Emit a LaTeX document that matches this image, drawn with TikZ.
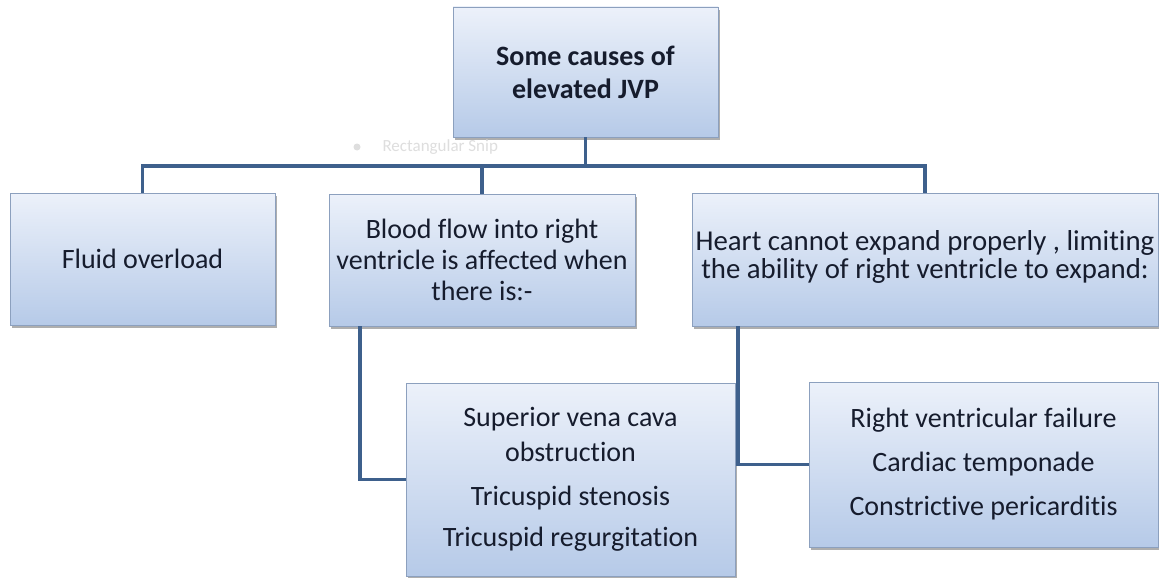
\documentclass[tikz,border=0pt]{standalone}
\usepackage{fontspec}
\setmainfont{Carlito}[Ligatures=NoCommon]
\usetikzlibrary{shadows}
\definecolor{boxtop}{RGB}{236,241,250}
\definecolor{boxbot}{RGB}{182,202,232}
\definecolor{boxline}{RGB}{140,160,190}
\definecolor{conncol}{RGB}{62,96,140}
\definecolor{txtcol}{RGB}{22,28,45}
\definecolor{faint}{RGB}{222,222,222}
\tikzset{
  box/.style={rectangle, draw=boxline, line width=0.8pt, top color=boxtop, bottom color=boxbot,
    drop shadow={shadow xshift=2pt, shadow yshift=-3pt, opacity=0.45, fill=black!70},
    inner sep=0pt, text=txtcol, align=center},
  conn/.style={draw=conncol, line width=3.8pt},
  txt/.style={font=\fontsize{28}{31}\selectfont}
}
\begin{document}
\begin{tikzpicture}[x=1pt,y=-1pt]
\useasboundingbox[fill=white] (0,0) rectangle (1159,578);
\node[box, minimum width=265pt, minimum height=130pt, font=\bfseries\fontsize{28}{33}\selectfont] (top) at (585.5,72) {Some causes of\\elevated JVP};
\node[box, minimum width=265pt, minimum height=132pt, txt] (fluid) at (142.5,259) {Fluid overload};
\node[box, minimum width=306pt, minimum height=132pt, txt] (blood) at (482,260) {Blood flow into right\\ventricle is affected when\\there is:-};
\node[box, minimum width=466pt, minimum height=133pt, font=\fontsize{28.8}{32}\selectfont] (heart) at (925,259.5) {\raisebox{10pt}{\shortstack{Heart cannot expand properly , limiting\\the ability of right ventricle to expand:}}};
\node[box, minimum width=329pt, minimum height=193pt, font=\fontsize{28}{35}\selectfont] (sub1) at (570.5,479.5) {Superior vena cava\\obstruction\\[9pt]Tricuspid stenosis\\[6pt]Tricuspid regurgitation};
\node[box, minimum width=349pt, minimum height=165pt, font=\fontsize{28}{44}\selectfont] (sub2) at (983.5,464.5) {Right ventricular failure\\Cardiac temponade\\Constrictive pericarditis};
\node[text=faint, font=\fontsize{17}{19}\selectfont, anchor=west] (snip) at (379,147) {Rectangular Snip};
\node[circle, fill=faint, minimum size=7pt, inner sep=0pt] (snipicon) at (357,147) {};
\coordinate (bar) at (0,166);
\coordinate (j1) at (360,0);
\coordinate (j2) at (738,0);
\draw[conn] (fluid.north) -- (fluid.north |- bar) -- (heart.north |- bar) -- (heart.north);
\draw[conn] (blood.north) -- (blood.north |- bar);
\draw[conn] (top.south) -- (top.south |- bar);
\draw[conn] (j1 |- blood.south) |- (sub1.west);
\draw[conn] (j2 |- heart.south) |- (sub2.west);
\end{tikzpicture}
\end{document}
